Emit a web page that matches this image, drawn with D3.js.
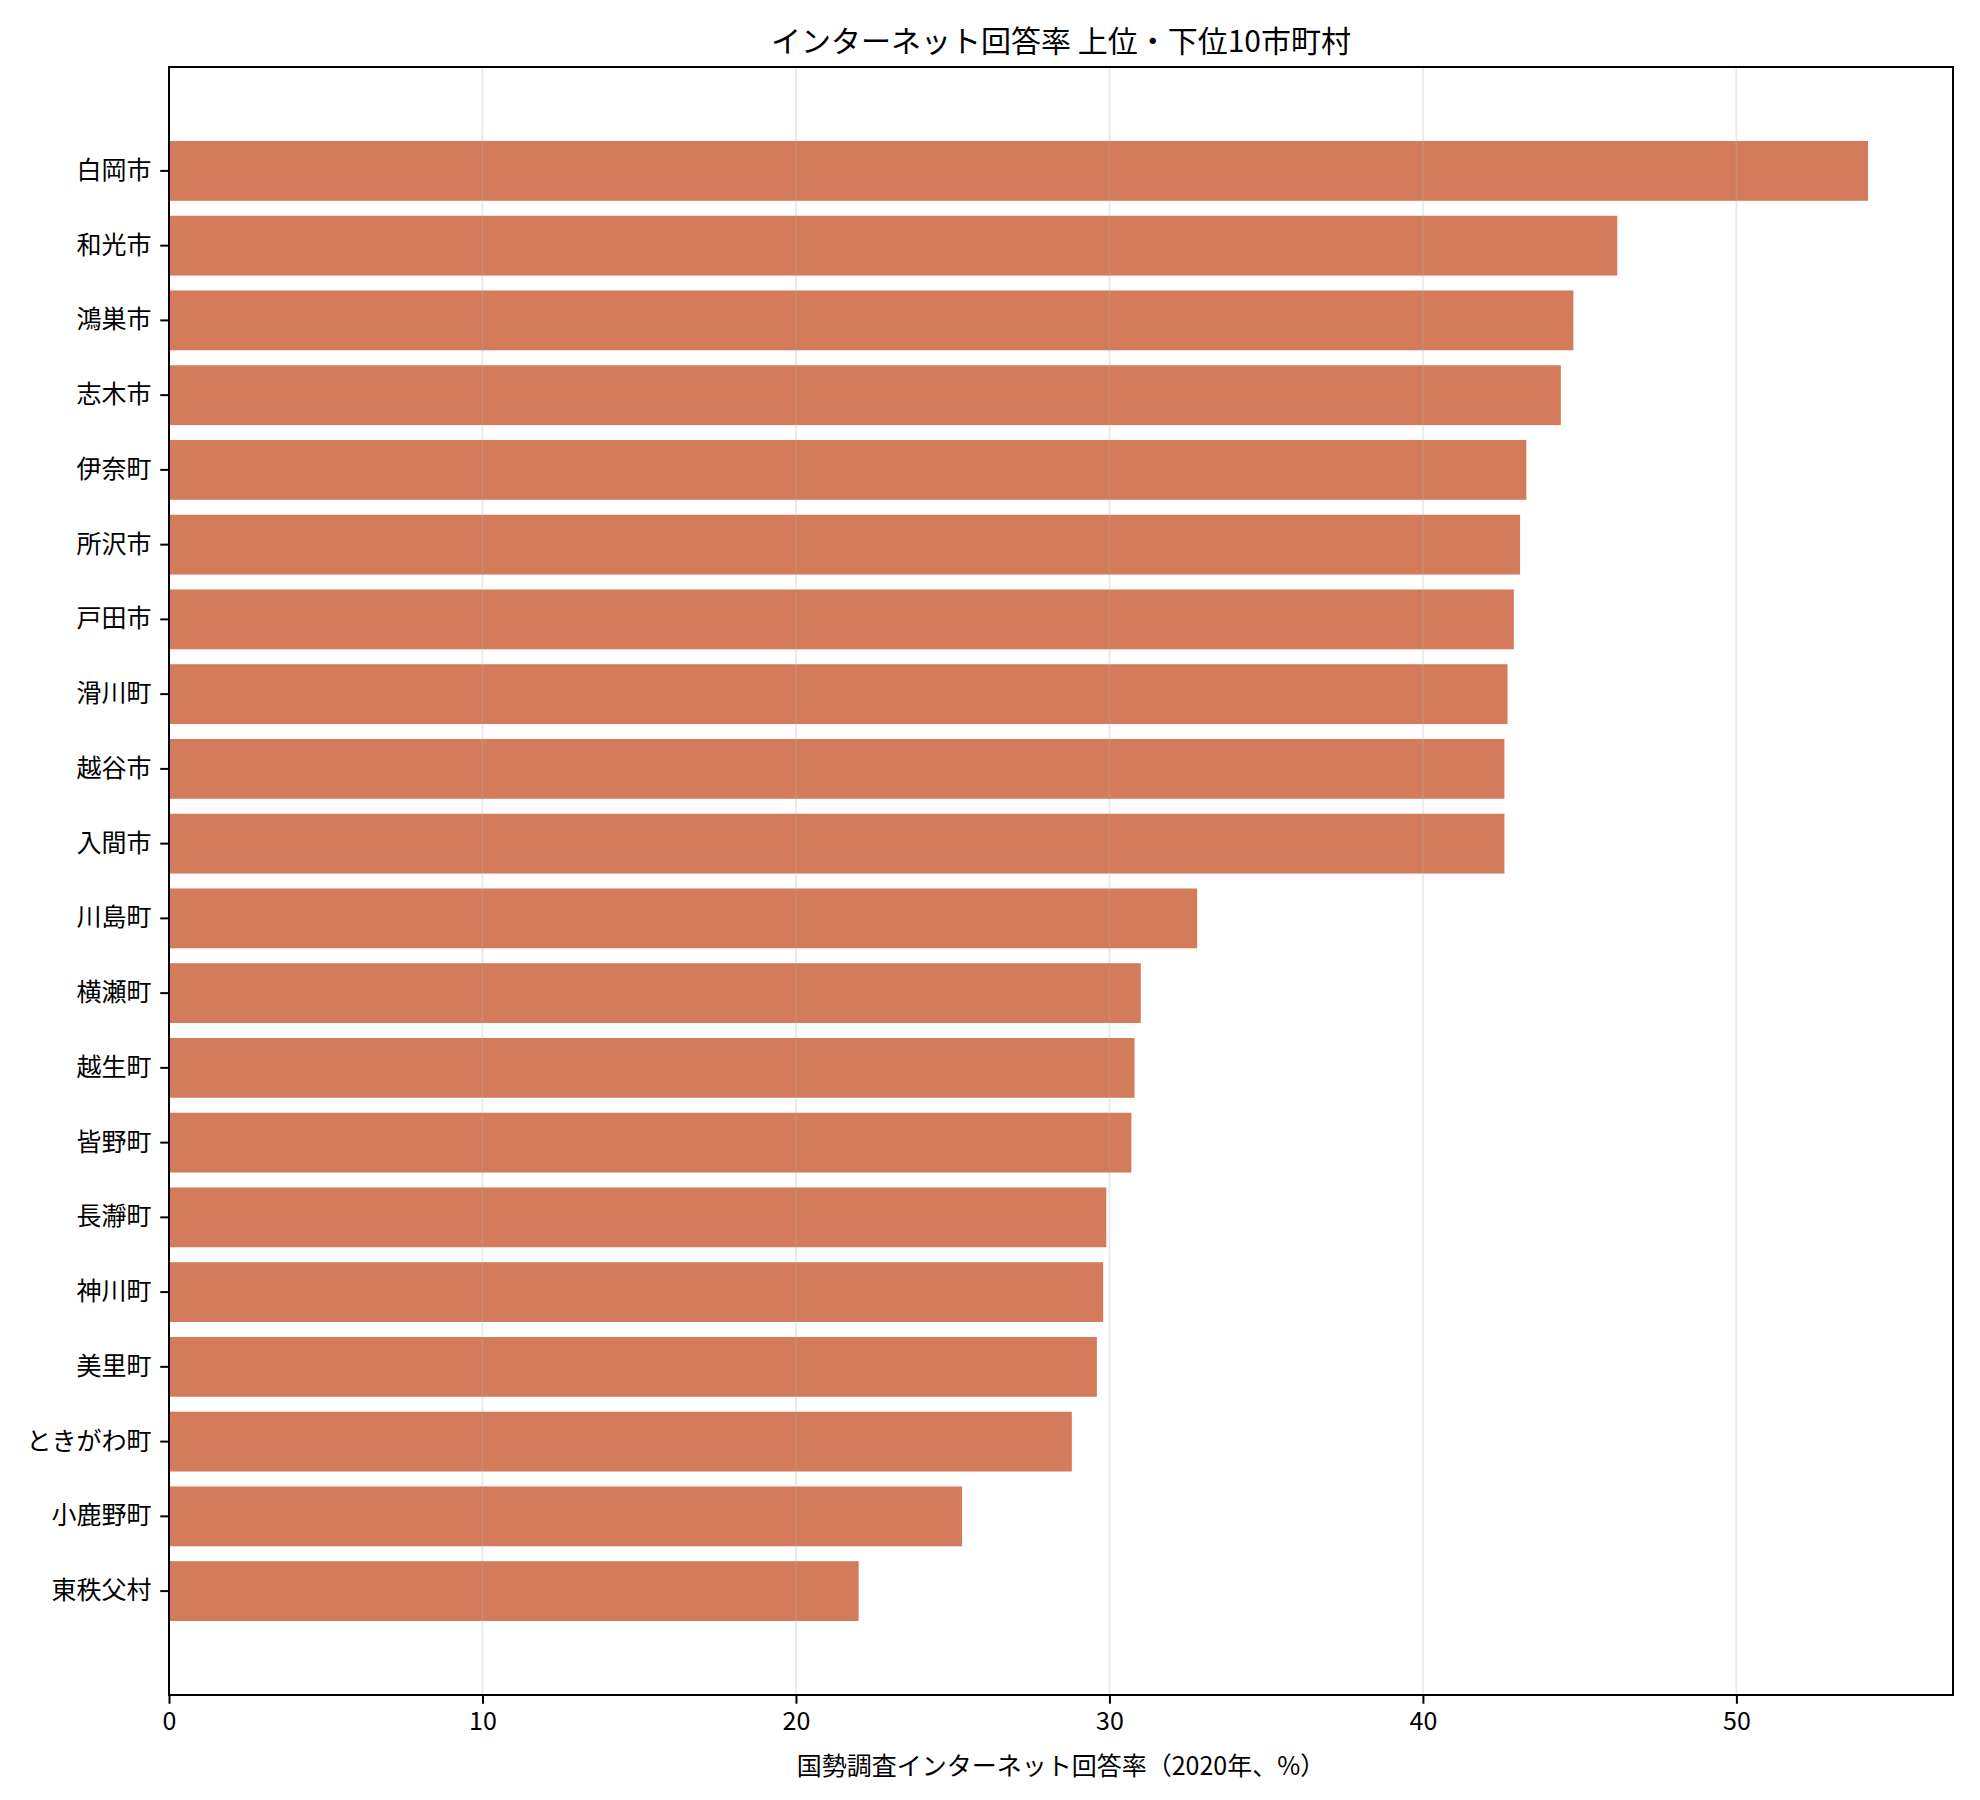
<!DOCTYPE html>
<html>
<head>
<meta charset="utf-8">
<script src="https://cdn.jsdelivr.net/npm/d3@7"></script>
<style>
  body { margin: 0; background: #fff; }
  svg text { font-family: "Noto Sans CJK JP", "Noto Sans", sans-serif; fill: #000; }
</style>
</head>
<body>
<div id="chart"></div>
<script>
// municipalities, top to bottom
const municipalities = ["白岡市", "和光市", "鴻巣市", "志木市", "伊奈町", "所沢市", "戸田市", "滑川町", "越谷市", "入間市",
  "川島町", "横瀬町", "越生町", "皆野町", "長瀞町", "神川町", "美里町", "ときがわ町", "小鹿野町", "東秩父村"];
// internet response rate (%)
const rates = [54.2, 46.2, 44.8, 44.4, 43.3, 43.1, 42.9, 42.7, 42.6, 42.6,
  32.8, 31.0, 30.8, 30.7, 29.9, 29.8, 29.6, 28.8, 25.3, 22.0];
const xTicks = [0, 10, 20, 30, 40, 50];

const titleText = "インターネット回答率 上位・下位10市町村";
const xLabelText = "国勢調査インターネット回答率（2020年、%）";

const width = 1980, height = 1800;
const margin = {top: 67, right: 27, bottom: 105, left: 169};
const tick = 8.75;

const data = municipalities.map((m, i) => ({name: m, value: rates[i]}));

const svg = d3.select("#chart").append("svg")
  .attr("width", width)
  .attr("height", height);

const x = d3.scaleLinear()
  .domain([0, d3.max(rates) * 1.05])
  .range([margin.left, width - margin.right]);

const y = d3.scaleBand()
  .domain(municipalities)
  .range([margin.top, height - margin.bottom])
  .paddingInner(0.2)
  .paddingOuter(0.99);

// bars
svg.append("g")
  .selectAll("rect")
  .data(data)
  .join("rect")
    .attr("x", x(0))
    .attr("y", d => y(d.name))
    .attr("width", d => x(d.value) - x(0))
    .attr("height", y.bandwidth())
    .attr("fill", "#d47b5b");

// vertical grid lines (drawn over the bars, like the original)
svg.append("g")
  .selectAll("line")
  .data(xTicks)
  .join("line")
    .attr("x1", d => x(d)).attr("x2", d => x(d))
    .attr("y1", margin.top).attr("y2", height - margin.bottom)
    .attr("stroke", "#b0b0b0")
    .attr("stroke-opacity", 0.3)
    .attr("stroke-width", 1.6);

// x axis
const xAxis = svg.append("g")
  .attr("transform", `translate(0,${height - margin.bottom})`)
  .call(d3.axisBottom(x).tickValues(xTicks).tickSize(tick).tickPadding(tick).tickFormat(d3.format("d")));
xAxis.select(".domain").remove();
xAxis.selectAll("line").attr("stroke", "#000").attr("stroke-width", 2);
xAxis.selectAll("text").style("font-size", "25px");

// y axis
const yAxis = svg.append("g")
  .attr("transform", `translate(${margin.left},0)`)
  .call(d3.axisLeft(y).tickSize(tick).tickPadding(tick));
yAxis.select(".domain").remove();
yAxis.selectAll("line").attr("stroke", "#000").attr("stroke-width", 2);
yAxis.selectAll("text").style("font-size", "25px");

// frame
svg.append("rect")
  .attr("x", margin.left)
  .attr("y", margin.top)
  .attr("width", width - margin.left - margin.right)
  .attr("height", height - margin.top - margin.bottom)
  .attr("fill", "none")
  .attr("stroke", "#000")
  .attr("stroke-width", 2);

// title
svg.append("text")
  .attr("x", (margin.left + width - margin.right) / 2)
  .attr("y", 52)
  .attr("text-anchor", "middle")
  .style("font-size", "30px")
  .text(titleText);

// x label
svg.append("text")
  .attr("x", (margin.left + width - margin.right) / 2)
  .attr("y", 1775)
  .attr("text-anchor", "middle")
  .style("font-size", "25px")
  .text(xLabelText);
</script>
</body>
</html>
